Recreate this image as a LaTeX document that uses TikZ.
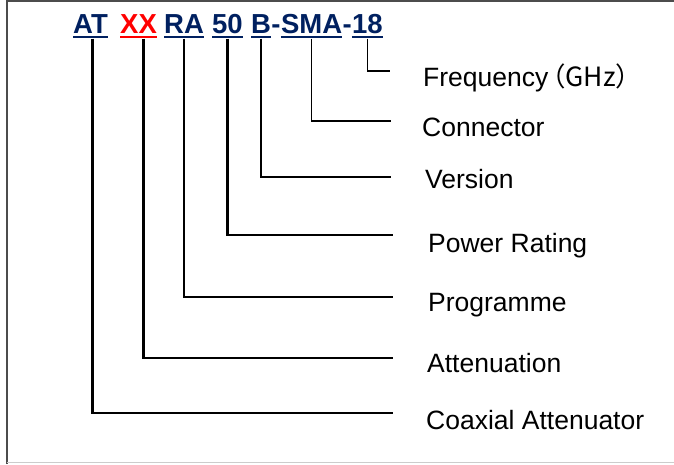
\documentclass[tikz,border=0pt]{standalone}
\usepackage{fontspec}
\setmainfont{Liberation Sans}
\newfontfamily\cjk{Noto Sans CJK SC}
\definecolor{codeblue}{HTML}{002060}
\definecolor{codered}{HTML}{FF0000}
\tikzset{
  code/.style={anchor=base west, inner sep=0pt, font=\fontsize{27.5}{27.5}\selectfont\bfseries},
  lbl/.style={anchor=base west, inner sep=0pt, font=\fontsize{26.5}{26.5}\selectfont},
  ulin/.style={line width=2pt},
  lead/.style={line width=2.4pt},
  leadthin/.style={line width=1.3pt},
}

\begin{document}
\begin{tikzpicture}[x=1pt,y=-1pt]
    \useasboundingbox (0,0) rectangle (674,464);
    % frame
    \draw[line width=2pt,black!70] (6.5,464) -- (6.5,0.8) -- (674,0.8);
    \draw[line width=1.5pt,black!20] (6.5,462.5) -- (674,462.5);

    % part number
    \node[code,codeblue] (at) at (73,33.5) {AT};
    \node[code,codered] (xx) at (120,33.5) {XX};
    \node[code,codeblue] (ra) at (164,33.5) {RA};
    \node[code,codeblue] (pw) at (212,33.5) {50};
    \node[code,codeblue] (vb) at (251,33.5) {B};
    \node[code,codeblue] (h1) at (vb.base east) {-};
    \node[code,codeblue] (sma) at (h1.base east) {SMA};
    \node[code,codeblue] (h2) at (sma.base east) {-};
    \node[code,codeblue] (fq) at (h2.base east) {18};
    \foreach \n in {at,ra,pw,vb,sma,fq}
    \draw[ulin,codeblue] ([yshift=-3pt]\n.base west) -- ([yshift=-3pt]\n.base east);
    \draw[ulin,codered] ([yshift=-3pt]xx.base west) -- ([yshift=-3pt]xx.base east);

    % labels
    \node[lbl] (lfq) at (423,86) {Frequency\kern-0.35em\cjk{（}GHz\cjk{）}};
    \node[lbl] (lsma) at (422,136) {Connector};
    \node[lbl] (lvb) at (425,188) {Version};
    \node[lbl] (lpw) at (428,252) {Power Rating};
    \node[lbl] (lra) at (428,311) {Programme};
    \node[lbl] (lxx) at (427,372) {Attenuation};
    \node[lbl] (lat) at (426,429) {Coaxial Attenuator};

    % leader ends
    \coordinate (efq) at (390,71);
    \coordinate (esma) at (391,121);
    \coordinate (evb) at (391,177);
    \coordinate (epw) at (393,235);
    \coordinate (era) at (393,297);
    \coordinate (exx) at (393,358);
    \coordinate (eat) at (393,413);

    \foreach \n in {fq,sma}
    \draw[leadthin] ([yshift=-5pt]\n.base) |- (e\n);
    \foreach \n in {vb,pw,ra}
    \draw[lead] ([yshift=-5pt]\n.base) |- (e\n);
    \draw[lead] ([xshift=5pt,yshift=-5pt]xx.base) |- (exx);
    \draw[lead] ([xshift=2pt,yshift=-5pt]at.base) |- (eat);

\end{tikzpicture}
\end{document}
